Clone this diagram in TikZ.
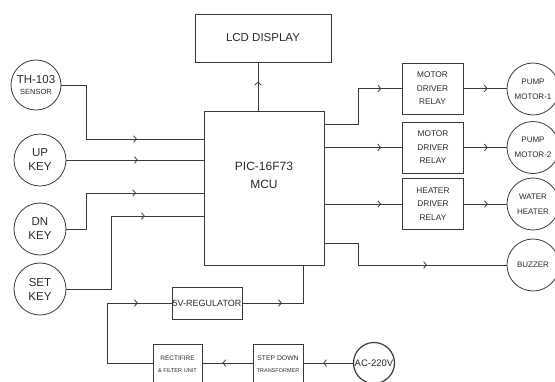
\documentclass[tikz,border=0pt]{standalone}
\usepackage{fontspec}
\setmainfont{Liberation Sans}
\usetikzlibrary{arrows.meta,decorations.markings}
\newcommand{\fs}[2]{\fontsize{#1}{#2}\selectfont}
\definecolor{wire}{HTML}{3a3a3a}
\definecolor{ink}{HTML}{2a2a2a}
\tikzset{
    flow/.style={postaction={decorate},
        decoration={markings,
            mark=at position #1 with {\arrow{Straight Barb[length=2.8pt,width=6.5pt]}}}},
    blk/.style={draw=wire, rectangle, align=center, inner sep=0pt, text=ink},
    dev/.style={draw=wire, circle, align=center, inner sep=0pt, text=ink, minimum size=52pt},
    relay/.style={blk, minimum width=61pt, minimum height=51pt, font=\fs{8.3}{13.5}},
}

\begin{document}
\begin{tikzpicture}[x=1pt, y=-1pt, line width=0.8pt, draw=wire]
\clip (0,0) rectangle (555,381);

% inputs
\node[dev, minimum size=50pt] (th) at (36,85) {{\fs{11.5}{12}TH-103}\\[-1pt]{\fs{7.5}{9}SENSOR}};
\node[dev, font=\fs{11.5}{14}] (up) at (40,160) {UP\\KEY};
\node[dev, font=\fs{11.5}{14}] (dn) at (40,229) {DN\\KEY};
\node[dev, font=\fs{11.5}{14}] (sk) at (40,289) {SET\\KEY};

% controller
\node[blk, minimum width=136pt, minimum height=48pt, font=\fs{11.5}{13}] (lcd) at (263,38) {LCD DISPLAY};
\node[blk, minimum width=120pt, minimum height=154pt, font=\fs{12}{18}] (mcu) at (264,188) {PIC-16F73\\MCU\\[8pt]};

% outputs
\node[relay] (r1) at (432.5,88.5) {MOTOR\\DRIVER\\RELAY};
\node[relay] (r2) at (433,147.5) {MOTOR\\DRIVER\\RELAY};
\node[relay] (ht) at (433,204) {HEATER\\DRIVER\\RELAY};
\node[dev, font=\fs{8}{15}] (pm1) at (533,89) {PUMP\\MOTOR-1};
\node[dev, font=\fs{8}{15}] (pm2) at (533,147.5) {PUMP\\MOTOR-2};
\node[dev, font=\fs{8}{15}] (wh) at (533,204) {WATER\\HEATER};
\node[dev, font=\fs{8}{15}] (bz) at (533,265) {BUZZER};

% supply
\node[blk, minimum width=70pt, minimum height=32pt, font=\fs{9}{11}] (reg) at (207,303) {5V-REGULATOR};
\node[blk, minimum width=49pt, minimum height=40pt] (rf) at (177.5,364) {{\fs{6.5}{10}RECTIFIRE}\\{\fs{5.6}{10}\& FILTER UNIT}};
\node[blk, minimum width=50pt, minimum height=40pt] (st) at (278,364) {{\fs{6.8}{10}STEP DOWN}\\{\fs{5.5}{10}TRANSFORMER}};
\node[dev, minimum size=41pt, line width=1.2pt, font=\fs{9.5}{11}] (ac) at (374,363) {AC-220V};

% input wires
\coordinate (j1) at (86,139);
\coordinate (j2) at (86,193);
\coordinate (j3) at (111,216);
\draw[flow=0.66] (th.east) -| (j1) -- (j1 -| mcu.west);
\draw[flow=0.52] (up.east) -- (up.east -| mcu.west);
\draw[flow=0.61] (dn.east) -| (j2) -- (j2 -| mcu.west);
\draw[flow=0.72] (sk.east) -| (j3) -- (j3 -| mcu.west);
\draw[flow=0.6] ([xshift=-6pt]mcu.north) -- ([xshift=-5pt]lcd.south);

% output wires
\coordinate (o1) at (mcu.east |- 0,124);
\coordinate (o4) at (mcu.east |- 0,243);
\draw[flow=0.82] (o1) -- ++(34,0) |- (r1.west);
\draw[flow=0.73] (mcu.east |- r2.west) -- (r2.west);
\draw[flow=0.73] (mcu.east |- ht.west) -- (ht.west);
\draw[flow=0.61] (o4) -- ++(34,0) |- (bz.west);
\foreach \r/\d in {r1/pm1, r2/pm2, ht/wh}
    \draw[flow=0.56] (\r.east) -- (\r.east -| \d.west);

% supply wires
\draw[flow=0.6] (ac.west) -- (ac.west -| st.east);
\draw[flow=0.6] (st.west |- ac.west) -- (rf.east |- ac.west);
\draw[flow=0.8] (rf.west |- ac.west) -- ++(-45,0) |- (reg.west);
\draw[flow=0.4] (reg.east) -| (mcu.south -| st.east);
\end{tikzpicture}
\end{document}
